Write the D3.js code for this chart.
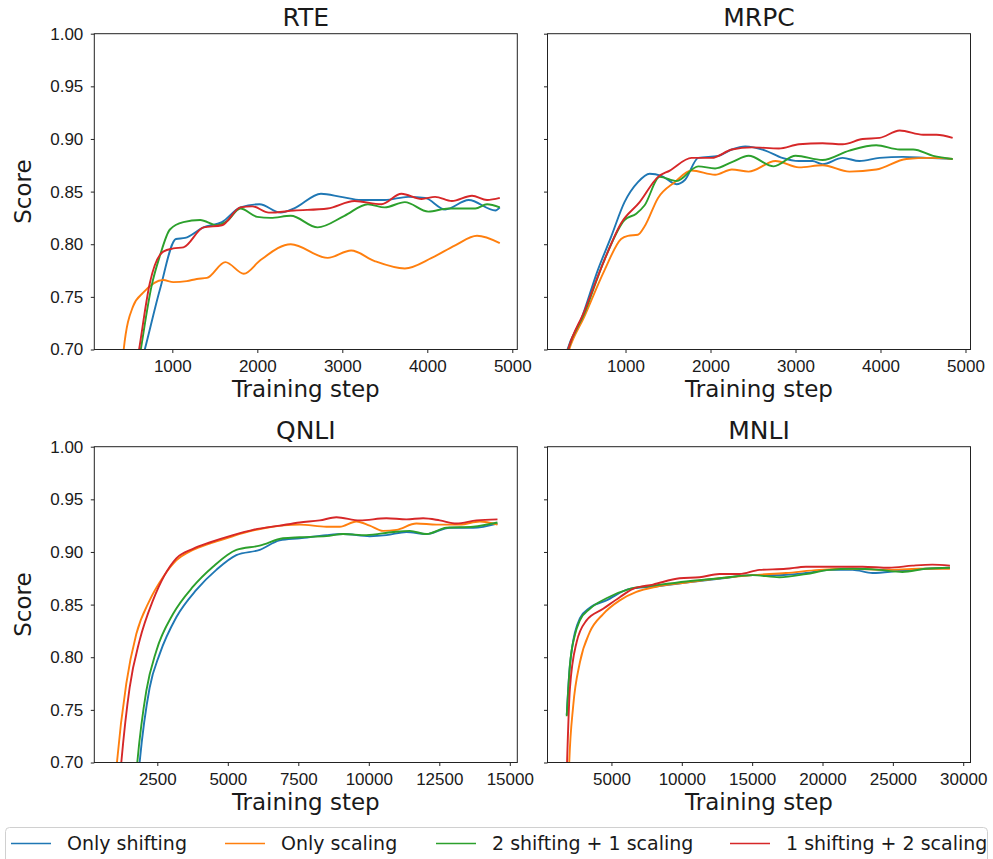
<!DOCTYPE html>
<html>
<head>
<meta charset="utf-8">
<script src="https://cdn.jsdelivr.net/npm/d3@7"></script>
<style>
  body { margin: 0; background: #fff; }
  svg { display: block; font-family: "DejaVu Sans", sans-serif; }
  .tick text { font-size: 17px; fill: #1a1a1a; }
  .domain, .tick line { stroke: #222; }
</style>
</head>
<body>
<div id="chart"></div>
<script>

// series names + colours (matplotlib tab10)
var seriesNames = ["Only shifting", "Only scaling", "2 shifting + 1 scaling", "1 shifting + 2 scaling"];
var seriesColors = ["#1f77b4", "#ff7f0e", "#2ca02c", "#d62728"];

var panelTitles = ["RTE", "MRPC", "QNLI", "MNLI"];
var panelDomains = [[82, 5059], [82, 5059], [266, 15266], [455, 30518]];
var panelTicks = [
  [1000, 2000, 3000, 4000, 5000],
  [1000, 2000, 3000, 4000, 5000],
  [2500, 5000, 7500, 10000, 12500, 15000],
  [5000, 10000, 15000, 20000, 25000, 30000]
];
var scoreTicks = [0.70, 0.75, 0.80, 0.85, 0.90, 0.95, 1.00];

// RTE  [step, score]
var rteShifting = [[560,0.665],[676,0.70],[854,0.757],[1043,0.805],[1150,0.806],[1367,0.816],[1584,0.821],[1801,0.835],[2026,0.838],[2275,0.830],[2433,0.834],[2749,0.848],[2986,0.845],[3223,0.842],[3499,0.842],[3775,0.845],[3973,0.844],[4210,0.833],[4487,0.842],[4802,0.832],[4853,0.835]];
var rteScaling = [[390,0.66],[428,0.70],[538,0.741],[657,0.754],[893,0.766],[1012,0.764],[1170,0.765],[1288,0.767],[1407,0.768],[1624,0.783],[1841,0.772],[2038,0.785],[2394,0.800],[2828,0.787],[3104,0.794],[3380,0.784],[3736,0.777],[4052,0.787],[4328,0.799],[4585,0.808],[4853,0.801]];
var rteTwoShift = [[560,0.665],[629,0.70],[755,0.760],[854,0.789],[972,0.814],[1130,0.821],[1328,0.823],[1525,0.818],[1644,0.822],[1801,0.834],[1999,0.826],[2157,0.825],[2394,0.827],[2709,0.816],[3025,0.827],[3301,0.838],[3499,0.835],[3736,0.840],[4012,0.831],[4250,0.834],[4565,0.834],[4703,0.838],[4853,0.835]];
var rteTwoScale = [[540,0.665],[609,0.70],[735,0.763],[893,0.793],[1012,0.796],[1130,0.797],[1367,0.816],[1584,0.818],[1801,0.835],[1940,0.836],[2137,0.830],[2433,0.832],[2828,0.834],[3144,0.841],[3459,0.838],[3696,0.848],[3933,0.843],[4092,0.845],[4289,0.841],[4526,0.846],[4703,0.842],[4853,0.844]];

// MRPC
var mrpcShifting = [[290,0.692],[317,0.700],[475,0.728],[672,0.775],[830,0.807],[988,0.840],[1146,0.859],[1284,0.867],[1422,0.865],[1600,0.857],[1698,0.861],[1856,0.882],[2093,0.884],[2251,0.890],[2409,0.893],[2646,0.889],[2844,0.882],[3041,0.879],[3199,0.879],[3318,0.876],[3554,0.882],[3752,0.879],[3989,0.882],[4265,0.883],[4541,0.882],[4849,0.881]];
var mrpcScaling = [[300,0.690],[337,0.700],[514,0.731],[751,0.775],[948,0.805],[1028,0.808],[1146,0.809],[1225,0.817],[1383,0.844],[1580,0.859],[1777,0.870],[2054,0.866],[2251,0.871],[2448,0.869],[2764,0.879],[3041,0.873],[3318,0.875],[3634,0.869],[3950,0.871],[4305,0.881],[4581,0.882],[4849,0.881]];
var mrpcTwoShift = [[295,0.691],[325,0.700],[514,0.734],[751,0.785],[988,0.823],[1126,0.829],[1225,0.837],[1402,0.864],[1600,0.860],[1856,0.874],[2054,0.872],[2251,0.878],[2448,0.884],[2744,0.874],[3001,0.884],[3318,0.880],[3634,0.889],[3950,0.894],[4226,0.890],[4384,0.890],[4620,0.884],[4849,0.881]];
var mrpcTwoScale = [[295,0.691],[325,0.700],[514,0.736],[751,0.785],[948,0.820],[1166,0.840],[1383,0.864],[1521,0.870],[1777,0.882],[2014,0.882],[2251,0.890],[2488,0.892],[2804,0.891],[3041,0.895],[3318,0.896],[3554,0.895],[3791,0.900],[3989,0.901],[4226,0.908],[4502,0.904],[4660,0.904],[4849,0.901]];

// QNLI
var qnliShifting = [[1730,0.655],[1873,0.700],[2228,0.771],[2583,0.803],[3174,0.838],[3884,0.864],[4593,0.883],[5303,0.897],[6131,0.902],[6840,0.911],[7550,0.913],[8496,0.916],[9087,0.917],[10033,0.915],[10625,0.916],[11335,0.919],[12044,0.917],[12871,0.923],[13700,0.923],[14563,0.927]];
var qnliScaling = [[950,0.660],[1069,0.700],[1400,0.775],[1755,0.822],[2228,0.854],[2701,0.876],[3174,0.892],[3765,0.902],[4357,0.908],[4948,0.913],[5539,0.918],[6367,0.923],[7550,0.926],[8496,0.924],[8969,0.924],[9560,0.929],[10033,0.925],[10506,0.920],[10980,0.921],[11689,0.927],[12399,0.926],[13227,0.926],[13936,0.929],[14563,0.926]];
var qnliTwoShift = [[1650,0.655],[1790,0.700],[2110,0.768],[2465,0.806],[3056,0.841],[3765,0.867],[4475,0.886],[5303,0.902],[6131,0.906],[6958,0.913],[7550,0.914],[8496,0.915],[9087,0.917],[9915,0.916],[10861,0.919],[11453,0.920],[12044,0.917],[12753,0.923],[13700,0.924],[14563,0.928]];
var qnliTwoScale = [[1100,0.660],[1223,0.700],[1518,0.771],[1873,0.816],[2346,0.854],[3174,0.894],[3765,0.903],[4357,0.909],[5184,0.916],[5894,0.921],[6840,0.925],[7550,0.928],[8260,0.930],[8851,0.933],[9679,0.930],[10625,0.932],[11335,0.931],[11926,0.932],[12517,0.930],[13108,0.927],[13818,0.930],[14563,0.931]];

// MNLI
var mnliShifting = [[1822,0.745],[2046,0.792],[2755,0.837],[3464,0.847],[4646,0.854],[6300,0.865],[7954,0.867],[10317,0.871],[12916,0.875],[15043,0.878],[16933,0.878],[18824,0.880],[20478,0.883],[22132,0.883],[23550,0.880],[25440,0.882],[27330,0.884],[29055,0.885]];
var mnliScaling = [[1822,0.620],[2000,0.700],[2283,0.754],[2755,0.795],[3464,0.824],[4410,0.841],[5591,0.854],[6772,0.862],[8190,0.867],[10317,0.871],[12680,0.875],[15043,0.878],[17406,0.880],[19769,0.883],[22132,0.884],[24495,0.883],[26858,0.884],[29055,0.884]];
var mnliTwoShift = [[1822,0.744],[2046,0.792],[2401,0.821],[2755,0.835],[3464,0.846],[4646,0.856],[6300,0.865],[7954,0.868],[10317,0.872],[12680,0.875],[15043,0.878],[16933,0.876],[18824,0.879],[20478,0.883],[22132,0.884],[24022,0.883],[25676,0.881],[27330,0.884],[29055,0.885]];
var mnliTwoScale = [[1822,0.690],[2046,0.770],[2519,0.814],[3228,0.835],[4410,0.846],[5591,0.857],[6536,0.865],[7954,0.869],[9844,0.875],[11262,0.876],[12680,0.879],[14098,0.879],[15516,0.883],[17406,0.884],[18824,0.886],[21187,0.886],[22841,0.886],[24731,0.885],[26385,0.887],[27803,0.888],[29055,0.887]];

var panelSeries = [
  [rteShifting, rteScaling, rteTwoShift, rteTwoScale],
  [mrpcShifting, mrpcScaling, mrpcTwoShift, mrpcTwoScale],
  [qnliShifting, qnliScaling, qnliTwoShift, qnliTwoScale],
  [mnliShifting, mnliScaling, mnliTwoShift, mnliTwoScale]
];

var width = 993, height = 859;
var plotW = 423, plotH = 315.8;
var plotLeft = [94.3, 547.5], plotTop = [33.7, 446.7];

var svg = d3.select("#chart").append("svg")
  .attr("width", width)
  .attr("height", height);

var yScale = d3.scaleLinear().domain([0.70, 1.00]).range([plotH, 0]);

panelTitles.forEach(function(title, i) {
  var col = i % 2, row = Math.floor(i / 2);
  var xScale = d3.scaleLinear().domain(panelDomains[i]).range([0, plotW]);

  var g = svg.append("g")
    .attr("transform", `translate(${plotLeft[col]},${plotTop[row]})`);

  g.append("clipPath").attr("id", "clip" + i)
    .append("rect").attr("width", plotW).attr("height", plotH);

  var line = d3.line()
    .x(d => xScale(d[0]))
    .y(d => yScale(d[1]))
    .curve(d3.curveMonotoneX);

  g.append("g").attr("clip-path", `url(#clip${i})`)
    .selectAll("path")
    .data(panelSeries[i])
    .enter().append("path")
    .attr("d", d => line(d))
    .attr("fill", "none")
    .attr("stroke", (d, k) => seriesColors[k])
    .attr("stroke-width", 1.9)
    .attr("stroke-linejoin", "round");

  var xAxis = d3.axisBottom(xScale).tickValues(panelTicks[i]).tickSize(3.5).tickPadding(6.5).tickFormat(d3.format("d"));
  var yAxis = d3.axisLeft(yScale).tickValues(scoreTicks).tickSize(3.5).tickPadding(7.5).tickFormat(d3.format(".2f"));
  if (col == 1) yAxis.tickFormat("");

  g.append("g").attr("transform", `translate(0,${plotH})`).call(xAxis)
    .call(a => a.select(".domain").remove());
  g.append("g").call(yAxis)
    .call(a => a.select(".domain").remove());

  // frame
  g.append("rect")
    .attr("width", plotW).attr("height", plotH)
    .attr("fill", "none").attr("stroke", "#222").attr("stroke-width", 1);

  g.append("text")
    .attr("x", plotW / 2).attr("y", -7.5)
    .attr("text-anchor", "middle")
    .style("font-size", "25px").style("fill", "#1a1a1a")
    .text(title);

  g.append("text")
    .attr("x", plotW / 2).attr("y", plotH + 47.5)
    .attr("text-anchor", "middle")
    .style("font-size", "23px").style("fill", "#1a1a1a")
    .text("Training step");

  if (col == 0) {
    g.append("text")
      .attr("transform", `translate(${31 - plotLeft[0]},${plotH / 2}) rotate(-90)`)
      .attr("text-anchor", "middle")
      .style("font-size", "23px").style("fill", "#1a1a1a")
      .text("Score");
  }
});

// legend
var legend = svg.append("g");
legend.append("rect")
  .attr("x", 5.5).attr("y", 827.5)
  .attr("width", 982).attr("height", 40)
  .attr("rx", 4)
  .attr("fill", "#fff").attr("stroke", "#d0d0d0").attr("stroke-width", 1);

var legendX = [11, 225, 436, 730];
var items = legend.selectAll(".item")
  .data(seriesNames)
  .enter().append("g")
  .attr("class", "item")
  .attr("transform", (d, k) => `translate(${legendX[k]},843.5)`);

items.append("line")
  .attr("x1", 0).attr("x2", 40)
  .attr("stroke", (d, k) => seriesColors[k])
  .attr("stroke-width", 1.3);

items.append("text")
  .attr("x", 56).attr("dy", "0.35em")
  .style("font-size", "19px").style("fill", "#1a1a1a")
  .text(d => d);

</script>
</body>
</html>
